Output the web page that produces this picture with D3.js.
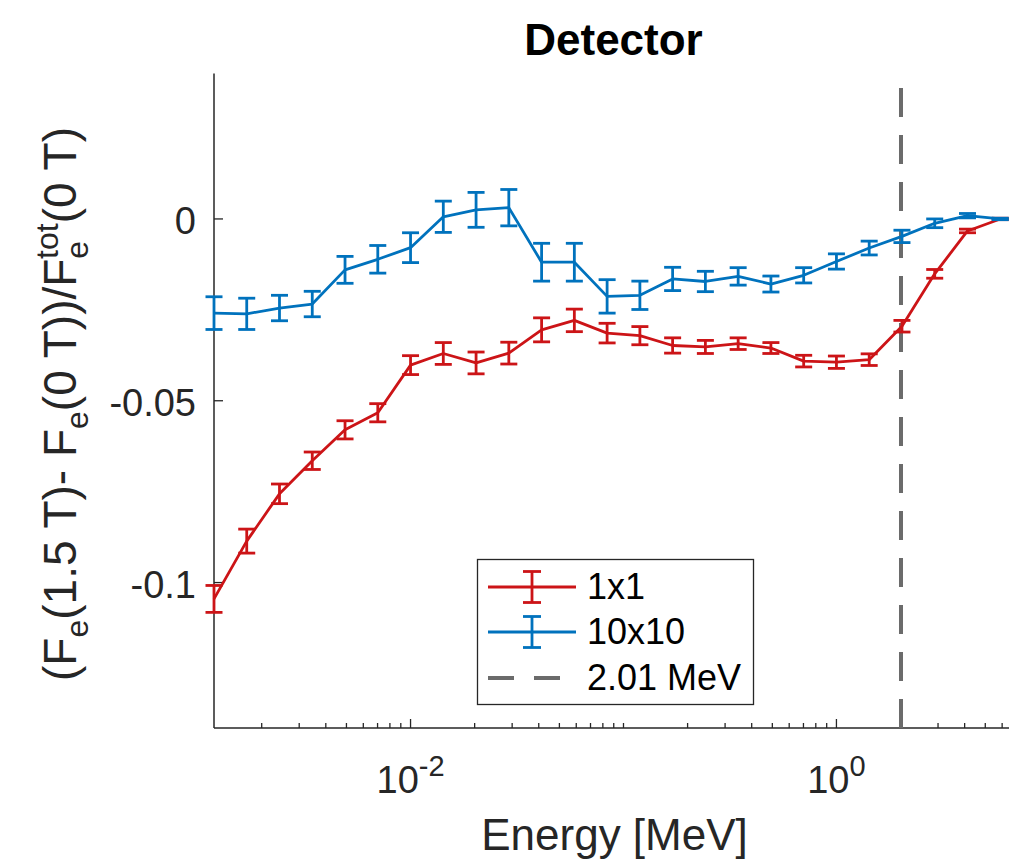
<!DOCTYPE html>
<html>
<head>
<meta charset="utf-8">
<script src="https://cdn.jsdelivr.net/npm/d3@7"></script>
<style>
	body { margin: 0; background: #fff; }
	svg { display: block; font-family: "Liberation Sans", Arial, Helvetica, sans-serif; }
</style>
</head>
<body>
<svg id="chart" width="1009" height="862"></svg>
<script>
// energy bins [MeV]
var energy = [0.001194, 0.001701, 0.002424, 0.003455, 0.004924, 0.007017, 0.01, 0.01425,
	0.02031, 0.02894, 0.04125, 0.05878, 0.08377, 0.1194, 0.1701, 0.2424, 0.3455, 0.4924,
	0.7017, 1.0, 1.425, 2.031, 2.894, 4.125, 5.878];

// 1x1 field
var red = [-0.1045, -0.0886, -0.0756, -0.0665, -0.0580, -0.0533, -0.0402, -0.0370,
	-0.0396, -0.0369, -0.0305, -0.0279, -0.0314, -0.0321, -0.0348, -0.0352, -0.0343, -0.0355,
	-0.0391, -0.0394, -0.0387, -0.0295, -0.0151, -0.0033, 0.0000];
var redErr = [0.0037, 0.0033, 0.0027, 0.0024, 0.0025, 0.0025, 0.0026, 0.0030,
	0.0030, 0.0030, 0.0033, 0.0031, 0.0027, 0.0025, 0.0021, 0.0018, 0.0016, 0.0015,
	0.0016, 0.0017, 0.0016, 0.0016, 0.0012, 0.0005, 0.0002];

// 10x10 field
var blue = [-0.0259, -0.0261, -0.0245, -0.0234, -0.0140, -0.0111, -0.0079, 0.0006,
	0.0025, 0.0031, -0.0119, -0.0119, -0.0213, -0.0210, -0.0165, -0.0172, -0.0158, -0.0179,
	-0.0155, -0.0117, -0.0080, -0.0048, -0.0012, 0.0009, 0.0000];
var blueErr = [0.0045, 0.0043, 0.0035, 0.0035, 0.0037, 0.0038, 0.0041, 0.0043,
	0.0048, 0.0050, 0.0052, 0.0052, 0.0046, 0.0039, 0.0032, 0.0028, 0.0024, 0.0022,
	0.0021, 0.0021, 0.0019, 0.0017, 0.0012, 0.0006, 0.0002];

var threshold = 2.01;
var legendLabels = ['1x1', '10x10', '2.01 MeV'];

var xDomain = [0.001194, 7.2],
	yDomain = [-0.14, 0.04];
var xTickValues = [0.01, 1],
	xTickExp = ['-2', '0'];
var yTickValues = [-0.1, -0.05, 0],
	yTickLabels = ['-0.1', '-0.05', '0'];

var axisColor = '#262626',
	redColor = '#cc1417',
	blueColor = '#0072bd',
	dashColor = '#6b6b6b';

var svg = d3.select('#chart');

var x = d3.scaleLog().domain(xDomain).range([214, 1019]),
	y = d3.scaleLinear().domain(yDomain).range([728, 73.5]);

// axes (box off, ticks pointing inwards)
var axes = svg.append('g').attr('class', 'axes');

axes.append('line')
	.attr('x1', x.range()[0]).attr('x2', x.range()[1])
	.attr('y1', y.range()[0]).attr('y2', y.range()[0])
	.attr('stroke', axisColor).attr('stroke-width', 1.5);

axes.append('line')
	.attr('x1', x.range()[0]).attr('x2', x.range()[0])
	.attr('y1', y.range()[0]).attr('y2', y.range()[1])
	.attr('stroke', axisColor).attr('stroke-width', 1.5);

axes.selectAll('line.xminor')
	.data(x.ticks().filter(function(t) {
		return xTickValues.every(function(v) { return Math.abs(t / v - 1) > 1e-6; });
	}))
	.enter().append('line')
	.attr('class', 'xminor')
	.attr('x1', function(d) { return x(d); })
	.attr('x2', function(d) { return x(d); })
	.attr('y1', y.range()[0])
	.attr('y2', y.range()[0] - 5)
	.attr('stroke', axisColor).attr('stroke-width', 1.3);

axes.selectAll('line.xmajor')
	.data(xTickValues)
	.enter().append('line')
	.attr('class', 'xmajor')
	.attr('x1', function(d) { return x(d); })
	.attr('x2', function(d) { return x(d); })
	.attr('y1', y.range()[0])
	.attr('y2', y.range()[0] - 9)
	.attr('stroke', axisColor).attr('stroke-width', 1.3);

var xLab = axes.selectAll('text.xlab')
	.data(xTickValues)
	.enter().append('text')
	.attr('class', 'xlab')
	.attr('x', function(d) { return x(d); })
	.attr('y', 793)
	.attr('text-anchor', 'middle')
	.attr('fill', axisColor)
	.attr('font-size', 38);
xLab.append('tspan').text('10');
xLab.append('tspan')
	.attr('font-size', 29)
	.attr('dy', -17)
	.text(function(d, i) { return xTickExp[i]; });

axes.selectAll('line.ytick')
	.data(yTickValues)
	.enter().append('line')
	.attr('class', 'ytick')
	.attr('x1', x.range()[0])
	.attr('x2', x.range()[0] + 9)
	.attr('y1', function(d) { return y(d); })
	.attr('y2', function(d) { return y(d); })
	.attr('stroke', axisColor).attr('stroke-width', 1.3);

axes.selectAll('text.ylab')
	.data(yTickValues)
	.enter().append('text')
	.attr('class', 'ylab')
	.attr('x', 196)
	.attr('y', function(d) { return y(d) + 15; })
	.attr('text-anchor', 'end')
	.attr('fill', axisColor)
	.attr('font-size', 38)
	.text(function(d, i) { return yTickLabels[i]; });

// threshold line
svg.append('line')
	.attr('x1', x(threshold)).attr('x2', x(threshold))
	.attr('y1', y(yDomain[0])).attr('y2', y(yDomain[1]))
	.attr('stroke', dashColor)
	.attr('stroke-width', 4)
	.attr('stroke-dasharray', '29,18');

// series with error bars
function drawSeries(vals, errs, color) {
	var pts = energy.map(function(e, i) { return { e: e, v: vals[i], err: errs[i] }; });
	var g = svg.append('g');

	g.append('path')
		.datum(pts)
		.attr('fill', 'none')
		.attr('stroke', color)
		.attr('stroke-width', 2.8)
		.attr('stroke-linejoin', 'round')
		.attr('d', d3.line()
			.x(function(d) { return x(d.e); })
			.y(function(d) { return y(d.v); }));

	var bars = g.selectAll('g.bar')
		.data(pts)
		.enter().append('g')
		.attr('class', 'bar')
		.attr('stroke', color)
		.attr('stroke-width', 2.8);

	bars.append('line')
		.attr('x1', function(d) { return x(d.e); })
		.attr('x2', function(d) { return x(d.e); })
		.attr('y1', function(d) { return y(d.v - d.err); })
		.attr('y2', function(d) { return y(d.v + d.err); });
	bars.append('line')
		.attr('x1', function(d) { return x(d.e) - 8.5; })
		.attr('x2', function(d) { return x(d.e) + 8.5; })
		.attr('y1', function(d) { return y(d.v - d.err); })
		.attr('y2', function(d) { return y(d.v - d.err); });
	bars.append('line')
		.attr('x1', function(d) { return x(d.e) - 8.5; })
		.attr('x2', function(d) { return x(d.e) + 8.5; })
		.attr('y1', function(d) { return y(d.v + d.err); })
		.attr('y2', function(d) { return y(d.v + d.err); });
}

drawSeries(red, redErr, redColor);
drawSeries(blue, blueErr, blueColor);

// title
svg.append('text')
	.attr('x', (x.range()[0] + x.range()[1]) / 2 - 3)
	.attr('y', 55)
	.attr('text-anchor', 'middle')
	.attr('font-size', 44)
	.attr('font-weight', 'bold')
	.attr('fill', '#000')
	.text('Detector');

// x label
svg.append('text')
	.attr('x', (x.range()[0] + x.range()[1]) / 2 - 2)
	.attr('y', 850)
	.attr('text-anchor', 'middle')
	.attr('font-size', 44)
	.attr('fill', axisColor)
	.text('Energy [MeV]');

// y label with sub/superscripts
var yl = svg.append('text')
	.attr('transform', 'translate(76,404) rotate(-90)')
	.attr('text-anchor', 'middle')
	.attr('font-size', 46)
	.attr('fill', axisColor);
yl.append('tspan').text('(F');
yl.append('tspan').attr('font-size', 32).attr('dy', 12).text('e');
yl.append('tspan').attr('dy', -12).text('(1.5 T)- F');
yl.append('tspan').attr('font-size', 32).attr('dy', 12).text('e');
yl.append('tspan').attr('dy', -12).text('(0 T))/F');
yl.append('tspan').attr('font-size', 32).attr('dy', 12).text('e');
yl.append('tspan').attr('font-size', 32).attr('dx', -18).attr('dy', -30).text('tot');
yl.append('tspan').attr('dy', 18).text('(0 T)');

// legend
var lg = svg.append('g').attr('class', 'legend');
lg.append('rect')
	.attr('x', 477.5).attr('y', 559.5)
	.attr('width', 276).attr('height', 145)
	.attr('fill', '#fff')
	.attr('stroke', axisColor).attr('stroke-width', 1.3);

var rowY = [587, 632, 678],
	rowColors = [redColor, blueColor, dashColor];

legendLabels.forEach(function(label, i) {
	var row = lg.append('g');
	row.append('line')
		.attr('x1', 488).attr('x2', 576)
		.attr('y1', rowY[i]).attr('y2', rowY[i])
		.attr('stroke', rowColors[i])
		.attr('stroke-width', i === 2 ? 4 : 2.8)
		.attr('stroke-dasharray', i === 2 ? '26,20' : null);
	if (i < 2) {
		row.append('line')
			.attr('x1', 532).attr('x2', 532)
			.attr('y1', rowY[i] - 15.5).attr('y2', rowY[i] + 15.5)
			.attr('stroke', rowColors[i]).attr('stroke-width', 2.8);
		[-15.5, 15.5].forEach(function(o) {
			row.append('line')
				.attr('x1', 523).attr('x2', 541)
				.attr('y1', rowY[i] + o).attr('y2', rowY[i] + o)
				.attr('stroke', rowColors[i]).attr('stroke-width', 2.8);
		});
	}
	row.append('text')
		.attr('x', 587)
		.attr('y', rowY[i] + 12)
		.attr('font-size', 36)
		.attr('fill', '#000')
		.text(label);
});
</script>
</body>
</html>
